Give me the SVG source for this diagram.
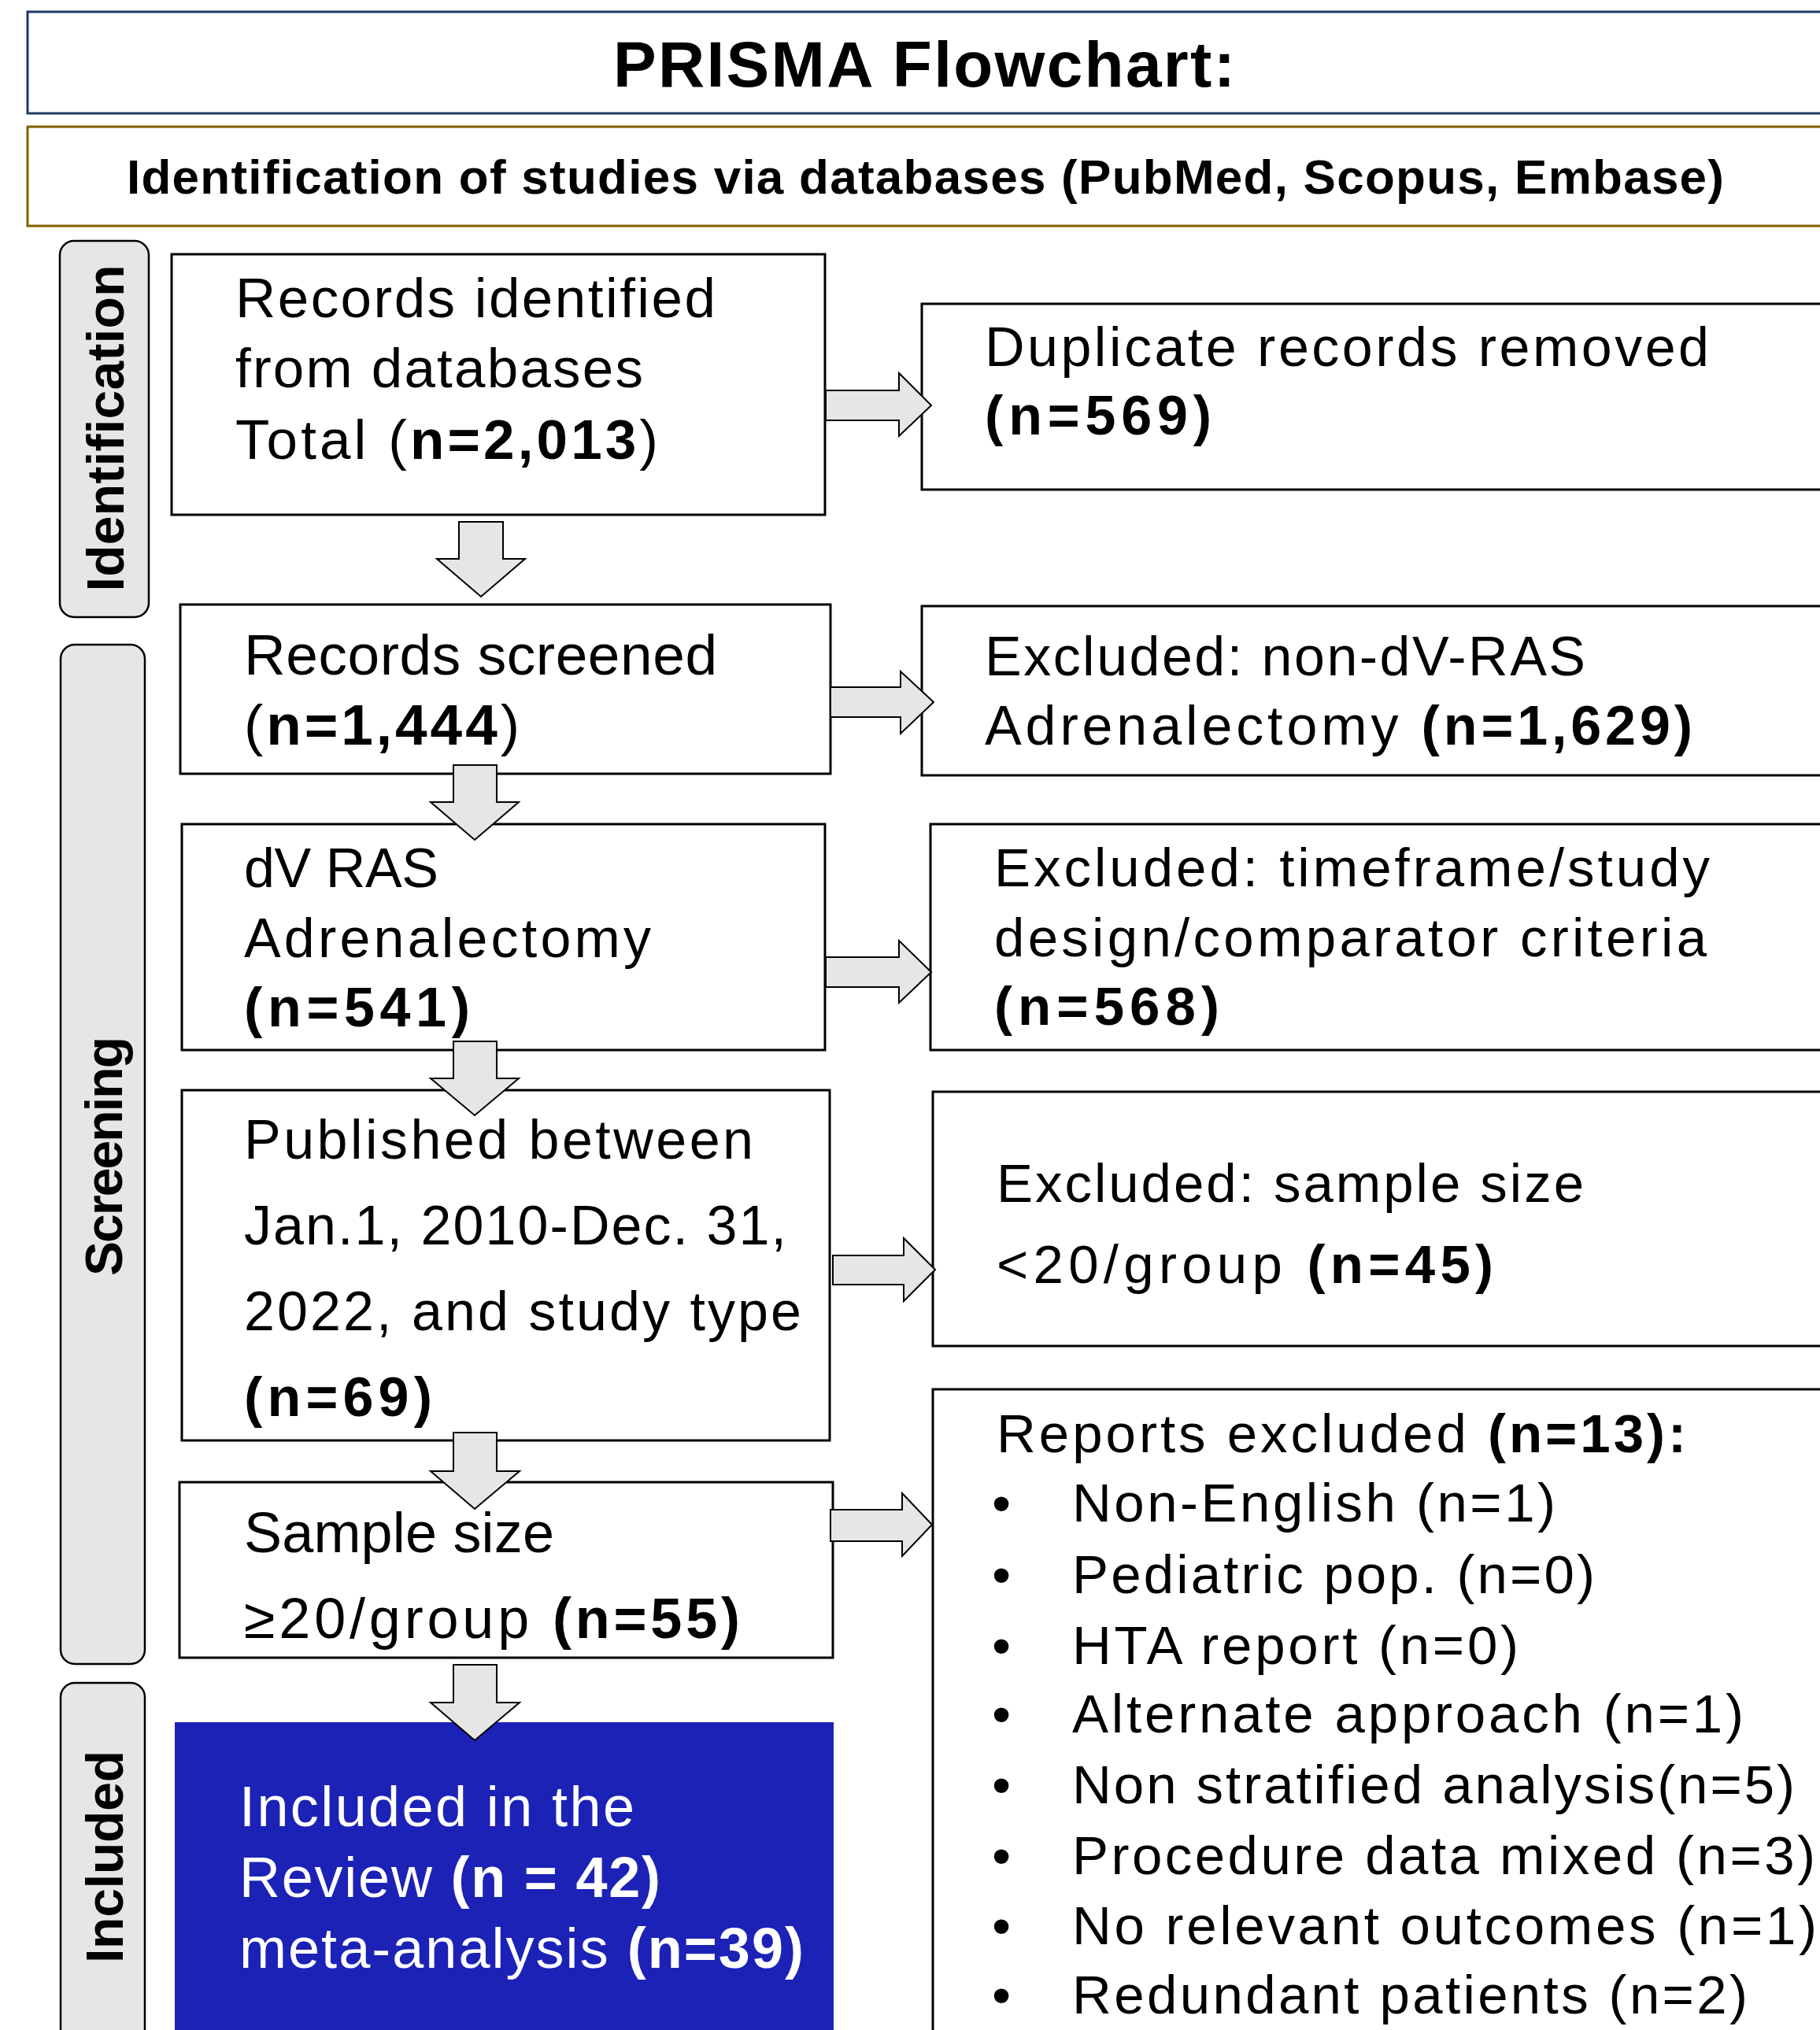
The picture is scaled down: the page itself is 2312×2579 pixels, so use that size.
<svg xmlns="http://www.w3.org/2000/svg" width="2312" height="2579" viewBox="0 0 2312 2579">
<style>
.bg{fill:#ffffff}
.box{fill:#ffffff;stroke:#000000;stroke-width:3}
.lab{fill:#e6e6e6;stroke:#000000;stroke-width:2.5}
.t{font-family:"Liberation Sans",Arial,sans-serif;fill:#000000}
.w{fill:#ffffff}
.b{font-weight:bold}
.lt{font-family:"Liberation Sans",Arial,sans-serif;font-weight:bold;font-size:66px;fill:#000000}
.arr{fill:#e6e6e6;stroke:#000000;stroke-width:2}
</style>
<rect class="bg" x="0" y="0" width="2312" height="2579"/>

<g id="title">
<rect x="35" y="15" width="2300" height="129" fill="#ffffff" stroke="#203864" stroke-width="3"/>
<text class="t b" x="1174" y="110" font-size="82" text-anchor="middle" textLength="790">PRISMA Flowchart:</text>
</g>
<g id="subtitle">
<rect x="35" y="161" width="2300" height="126" fill="#ffffff" stroke="#7f6000" stroke-width="3"/>
<text class="t b" x="161" y="246" font-size="62" textLength="2029">Identification of studies via databases (PubMed, Scopus, Embase)</text>
</g>

<g id="label-identification">
<rect class="lab" x="76" y="306" width="113" height="478" rx="18"/>
<text class="lt" x="157" y="544" text-anchor="middle" textLength="415" transform="rotate(-90 157 544)">Identification</text>
</g>
<g id="label-screening">
<rect class="lab" x="77" y="819" width="107" height="1295" rx="18"/>
<text class="lt" x="155" y="1469" text-anchor="middle" textLength="304" transform="rotate(-90 155 1469)">Screening</text>
</g>
<g id="label-included">
<rect class="lab" x="77" y="2138" width="107" height="520" rx="18"/>
<text class="lt" x="156" y="2359" text-anchor="middle" textLength="270" transform="rotate(-90 156 2359)">Included</text>
</g>

<g id="records-identified">
<rect class="box" x="218" y="323" width="830" height="331"/>
<text class="t" font-size="71" x="299" y="403" textLength="610">Records identified</text>
<text class="t" font-size="71" x="299" y="492" textLength="518">from databases</text>
<text class="t" font-size="71" x="299" y="583" textLength="537">Total (<tspan class="b">n=2,013</tspan>)</text>
</g>

<g id="records-screened">
<rect class="box" x="229" y="768" width="826" height="215"/>
<text class="t" font-size="73" x="310" y="857" textLength="601">Records screened</text>
<text class="t" font-size="73" x="310" y="946" textLength="350">(<tspan class="b">n=1,444</tspan>)</text>
</g>

<g id="dv-ras">
<rect class="box" x="231" y="1047" width="817" height="287"/>
<text class="t" font-size="70" x="310" y="1127" textLength="247">dV RAS</text>
<text class="t" font-size="70" x="310" y="1216" textLength="517">Adrenalectomy</text>
<text class="t b" font-size="70" x="310" y="1304" textLength="287">(n=541)</text>
</g>

<g id="published">
<rect class="box" x="231" y="1385" width="823" height="445"/>
<text class="t" font-size="70" x="310" y="1472" textLength="647">Published between</text>
<text class="t" font-size="70" x="310" y="1581" textLength="689">Jan.1, 2010-Dec. 31,</text>
<text class="t" font-size="70" x="310" y="1690" textLength="708">2022, and study type</text>
<text class="t b" font-size="70" x="310" y="1799" textLength="239">(n=69)</text>
</g>

<g id="sample-size">
<rect class="box" x="228" y="1883" width="830" height="223"/>
<text class="t" font-size="72" x="310" y="1972" textLength="394">Sample size</text>
<text class="t" font-size="72" x="310" y="2081" textLength="630">≥20/group <tspan class="b">(n=55)</tspan></text>
</g>

<g id="included">
<rect x="222" y="2188" width="837" height="420" fill="#1c22b5"/>
<text class="t w" font-size="72" x="304" y="2320" textLength="502">Included in the</text>
<text class="t w" font-size="72" x="304" y="2410" textLength="535">Review <tspan class="b">(n = 42)</tspan></text>
<text class="t w" font-size="72" x="304" y="2500" textLength="717">meta-analysis <tspan class="b">(n=39)</tspan></text>
</g>

<g id="duplicates">
<rect class="box" x="1171" y="386" width="1160" height="236"/>
<text class="t" font-size="70" x="1251" y="465" textLength="920">Duplicate records removed</text>
<text class="t b" font-size="70" x="1251" y="552" textLength="288">(n=569)</text>
</g>

<g id="excluded-non-dv">
<rect class="box" x="1171" y="770" width="1160" height="215"/>
<text class="t" font-size="70" x="1251" y="858" textLength="763">Excluded: non-dV-RAS</text>
<text class="t" font-size="70" x="1251" y="946" textLength="899">Adrenalectomy <tspan class="b">(n=1,629)</tspan></text>
</g>

<g id="excluded-timeframe">
<rect class="box" x="1182" y="1047" width="1150" height="287"/>
<text class="t" font-size="69" x="1263" y="1126" textLength="909">Excluded: timeframe/study</text>
<text class="t" font-size="69" x="1263" y="1215" textLength="905">design/comparator criteria</text>
<text class="t b" font-size="69" x="1263" y="1302" textLength="286">(n=568)</text>
</g>

<g id="excluded-sample">
<rect class="box" x="1185" y="1387" width="1150" height="323"/>
<text class="t" font-size="69" x="1266" y="1527" textLength="746">Excluded: sample size</text>
<text class="t" font-size="69" x="1266" y="1630" textLength="631">&lt;20/group <tspan class="b">(n=45)</tspan></text>
</g>

<g id="reports-excluded">
<rect class="box" x="1185" y="1765" width="1150" height="900"/>
<text class="t" font-size="69" x="1266" y="1845" textLength="876">Reports excluded <tspan class="b">(n=13):</tspan></text>
<g class="t" font-size="69">
<text x="1260" y="1933">•</text>
<text x="1362" y="1933" textLength="614">Non-English (n=1)</text>
<text x="1260" y="2024">•</text>
<text x="1362" y="2024" textLength="664">Pediatric pop. (n=0)</text>
<text x="1260" y="2114">•</text>
<text x="1362" y="2114" textLength="567">HTA report (n=0)</text>
<text x="1260" y="2201">•</text>
<text x="1362" y="2201" textLength="853">Alternate approach (n=1)</text>
<text x="1260" y="2291">•</text>
<text x="1362" y="2291" textLength="918">Non stratified analysis(n=5)</text>
<text x="1260" y="2381">•</text>
<text x="1362" y="2381" textLength="944">Procedure data mixed (n=3)</text>
<text x="1260" y="2470">•</text>
<text x="1362" y="2470" textLength="946">No relevant outcomes (n=1)</text>
<text x="1260" y="2558">•</text>
<text x="1362" y="2558" textLength="858">Redundant patients (n=2)</text>
</g>
</g>

<g id="connectors">
<polygon class="arr" points="1049,496 1142,496 1142,474 1183,515 1142,554 1142,534 1049,534"/>
<polygon class="arr" points="1055,873 1144,873 1144,853 1186,892 1144,932 1144,911 1055,911"/>
<polygon class="arr" points="1049,1216 1142,1216 1142,1195 1183,1235 1142,1274 1142,1254 1049,1254"/>
<polygon class="arr" points="1058,1595 1148,1595 1148,1573 1188,1613 1148,1653 1148,1632 1058,1632"/>
<polygon class="arr" points="1055,1918 1146,1918 1146,1897 1184,1937 1146,1977 1146,1958 1055,1958"/>
<polygon class="arr" points="583,663 639,663 639,710 667,710 611,758 555,710 583,710"/>
<polygon class="arr" points="576,972 631,972 631,1019 659,1019 603,1067 547,1019 576,1019"/>
<polygon class="arr" points="576,1323 631,1323 631,1370 659,1370 603,1417 547,1370 576,1370"/>
<polygon class="arr" points="576,1820 631,1820 631,1869 660,1869 603,1917 547,1869 576,1869"/>
<polygon class="arr" points="576,2115 631,2115 631,2163 660,2163 603,2211 547,2163 576,2163"/>
</g>
</svg>
